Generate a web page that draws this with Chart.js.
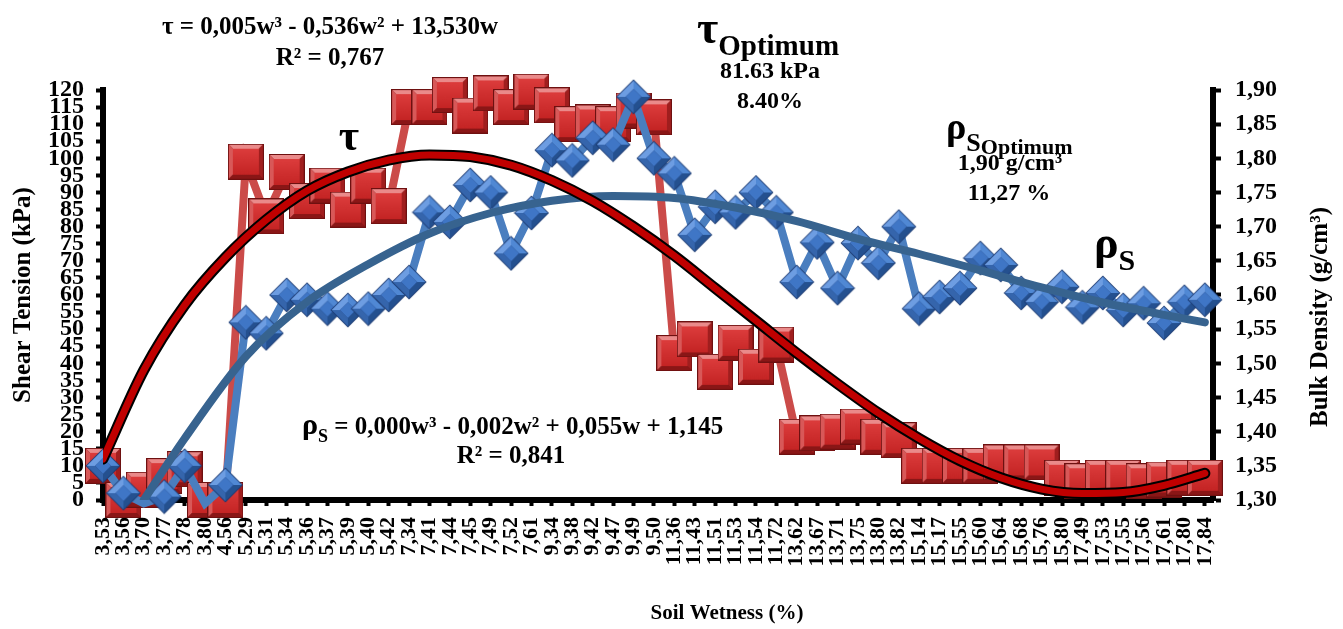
<!DOCTYPE html>
<html>
<head>
<meta charset="utf-8">
<script src="https://cdn.jsdelivr.net/npm/chart.js@4.4.1/dist/chart.umd.min.js"></script>
<style>
html, body { margin: 0; padding: 0; background: #fff; }
</style>
</head>
<body>
<canvas id="myChart" width="1343" height="629"></canvas>
<script>
// humedad del suelo (%) - categorias del eje x
var Humedad = ['3,53','3,56','3,70','3,77','3,78','3,80','4,56','5,29','5,31','5,34','5,36','5,37','5,39','5,40','5,42',
  '7,34','7,41','7,44','7,45','7,49','7,52','7,61','9,34','9,38','9,42','9,47','9,49','9,50',
  '11,36','11,43','11,51','11,53','11,54','11,72','13,62','13,67','13,71','13,75','13,80','13,82',
  '15,14','15,17','15,55','15,60','15,64','15,68','15,76','15,80','17,49','17,53','17,55','17,56','17,61','17,80','17,84'];

// tension de corte (kPa)
var Tension = [10, 0, 3, 7, 9, 0, 0, 99, 83, 96, 87.5, 92, 85, 92, 86,
  115, 115, 118.5, 112.5, 119, 115, 119.5, 115.5, 110, 110.5, 110, 114, 112,
  43, 47, 37.5, 46, 39, 45.5, 18.5, 19.5, 20, 21.5, 18.5, 17.5,
  10, 10, 10, 10, 11, 11, 11, 6.5, 5.5, 6.5, 6.5, 5.5, 6, 6.5, 6.5];

// densidad aparente (g/cm3)
var Densidad = [1.35, 1.31, 1.295, 1.305, 1.35, 1.295, 1.322, 1.56, 1.544, 1.60, 1.593, 1.58, 1.578, 1.58, 1.60,
  1.619, 1.721, 1.707, 1.761, 1.75, 1.661, 1.72, 1.812, 1.797, 1.83, 1.82, 1.89, 1.80,
  1.778, 1.688, 1.729, 1.721, 1.75, 1.721, 1.619, 1.677, 1.61, 1.676, 1.647, 1.70,
  1.58, 1.597, 1.61, 1.654, 1.644, 1.603, 1.59, 1.612, 1.582, 1.603, 1.578, 1.588, 1.559, 1.59, 1.593];

// lineas de tendencia (null = sin lectura)
var TensionTendencia = [12, null, 38, null, 57, null, 71, null, 82, null, 90.5, null, 96, null, 99.5,
  null, 101, null, 100.5, null, 98, null, 93.5, null, 87.5, null, 80, null,
  71.5, null, 62, null, 52.5, null, 43, null, 34, null, 25.5, null,
  18, null, 11.5, null, 6.5, null, 3.2, null, 1.9, null, 2.2, null, 4.3, null, 7.8];

var DensidadTendencia = [null, null, 1.30, null, 1.39, null, null, 1.51, null, null, 1.59, null, null, 1.645, null,
  null, 1.69, null, null, 1.72, null, null, 1.738, null, null, 1.745, null, null,
  1.742, null, null, 1.728, null, null, 1.708, null, null, 1.682, null, null,
  1.66, null, null, 1.636, null, null, 1.611, null, null, 1.589, null, null, 1.571, null, 1.56];

var SERIF = '"Times New Roman", "Liberation Serif", serif';
Chart.defaults.font.family = SERIF;
Chart.defaults.color = '#000';

function poligono(g, pts, color) {
  g.beginPath();
  g.moveTo(pts[0][0], pts[0][1]);
  for (var i = 1; i < pts.length; i++) g.lineTo(pts[i][0], pts[i][1]);
  g.closePath();
  g.fillStyle = color;
  g.fill();
}

// marcador cuadrado rojo con bisel
function hacerCuadro(s) {
  var c = document.createElement('canvas');
  c.width = s; c.height = s;
  var g = c.getContext('2d');
  var b = 4, e = s - 1;
  g.fillStyle = '#6e1010';
  g.fillRect(0, 0, s, s);
  poligono(g, [[1, 1], [e, 1], [e - b, 1 + b], [1 + b, 1 + b]], '#ea8a8a');
  poligono(g, [[1, 1], [1 + b, 1 + b], [1 + b, e - b], [1, e]], '#d85858');
  poligono(g, [[e, 1], [e, e], [e - b, e - b], [e - b, 1 + b]], '#a01e1e');
  poligono(g, [[1, e], [e, e], [e - b, e - b], [1 + b, e - b]], '#8a1616');
  var grd = g.createLinearGradient(0, 1 + b, 0, e - b);
  grd.addColorStop(0, '#dc3c3c');
  grd.addColorStop(1, '#c42424');
  g.fillStyle = grd;
  g.fillRect(1 + b, 1 + b, e - 1 - 2 * b, e - 1 - 2 * b);
  return c;
}

// marcador rombo azul tipo piramide
function hacerRombo(s) {
  var c = document.createElement('canvas');
  c.width = s; c.height = s;
  var g = c.getContext('2d');
  var m = s / 2, r = s / 2 - 0.5, k = r * 0.45;
  poligono(g, [[m, m - r], [m + r, m], [m, m + r], [m - r, m]], '#1d3b72');
  r = r - 1.2;
  poligono(g, [[m - r, m], [m, m - r], [m, m - k], [m - k, m]], '#6d9de2');
  poligono(g, [[m, m - r], [m + r, m], [m + k, m], [m, m - k]], '#5088d4');
  poligono(g, [[m + r, m], [m, m + r], [m, m + k], [m + k, m]], '#24508f');
  poligono(g, [[m, m + r], [m - r, m], [m - k, m], [m, m + k]], '#3565ac');
  poligono(g, [[m, m - k], [m + k, m], [m, m + k], [m - k, m]], '#3f76c6');
  return c;
}

var Cuadro = hacerCuadro(36);
var Rombo = hacerRombo(36);

function escribir(ctx, partes, x, y, align) {
  var total = 0;
  partes.forEach(function (p) {
    ctx.font = 'bold ' + p[1] + 'px ' + SERIF;
    total += ctx.measureText(p[0]).width;
  });
  var cx = align === 'center' ? x - total / 2 : x;
  partes.forEach(function (p) {
    ctx.font = 'bold ' + p[1] + 'px ' + SERIF;
    ctx.fillText(p[0], cx, y + (p[2] || 0));
    cx += ctx.measureText(p[0]).width;
  });
}

var textos = {
  id: 'textos',
  afterDraw: function (chart) {
    var ctx = chart.ctx;
    ctx.save();
    ctx.fillStyle = '#000';
    ctx.textAlign = 'left';
    ctx.textBaseline = 'alphabetic';

    escribir(ctx, [['τ = 0,005w³ - 0,536w² + 13,530w', 25]], 330, 34, 'center');
    escribir(ctx, [['R² = 0,767', 25]], 330, 65, 'center');

    escribir(ctx, [['τ', 46], ['Optimum', 29, 12]], 697, 43, 'left');
    escribir(ctx, [['81.63 kPa', 24]], 770, 78, 'center');
    escribir(ctx, [['8.40%', 24]], 770, 108, 'center');

    escribir(ctx, [['ρ', 38], ['S', 26, 12], ['Optimum', 22, 15]], 946, 139, 'left');
    escribir(ctx, [['1,90 g/cm³', 24]], 1010, 170, 'center');
    escribir(ctx, [['11,27 %', 24]], 1009, 200, 'center');

    escribir(ctx, [['τ', 44]], 349, 150, 'center');
    escribir(ctx, [['ρ', 46], ['S', 30, 12]], 1094, 258, 'left');

    escribir(ctx, [['ρ', 30], ['S', 18, 8], [' = 0,000w³ - 0,002w² + 0,055w + 1,145', 25]], 302, 434, 'left');
    escribir(ctx, [['R² = 0,841', 25]], 511, 463, 'center');

    escribir(ctx, [['Soil Wetness (%)', 21]], 727, 619, 'center');

    ctx.translate(1318, 317);
    ctx.rotate(-Math.PI / 2);
    escribir(ctx, [['Bulk Density (g/cm³)', 25]], 0, 9, 'center');
    ctx.restore();
  }
};

var ctx = document.getElementById('myChart');
var chartData = {
  type: 'line',
  data: {
    labels: Humedad.map(function (h, i) { return i; }),
    datasets: [{
      label: 'τ tendencia',
      data: TensionTendencia,
      yAxisID: 'y',
      borderColor: '#c00000',
      borderWidth: 7,
      borderCapStyle: 'round',
      pointRadius: 0,
      cubicInterpolationMode: 'monotone',
      spanGaps: true,
      fill: false
    },
    {
      label: 'τ tendencia borde',
      data: TensionTendencia,
      yAxisID: 'y',
      borderColor: '#000000',
      borderWidth: 11,
      borderCapStyle: 'round',
      pointRadius: 0,
      cubicInterpolationMode: 'monotone',
      spanGaps: true,
      fill: false
    },
    {
      label: 'ρs tendencia',
      data: DensidadTendencia,
      yAxisID: 'y1',
      borderColor: '#37638f',
      borderWidth: 8,
      borderCapStyle: 'round',
      pointRadius: 0,
      cubicInterpolationMode: 'monotone',
      spanGaps: true,
      fill: false
    },
    {
      label: 'ρs',
      data: Densidad,
      yAxisID: 'y1',
      borderColor: '#4a7ebf',
      borderWidth: 8,
      pointStyle: Rombo,
      pointRadius: function (c) { return c.raw < 1.3 ? 0 : 18; },
      tension: 0,
      clip: false,
      fill: false
    },
    {
      label: 'τ',
      data: Tension,
      yAxisID: 'y',
      borderColor: '#cb4b49',
      borderWidth: 8,
      pointStyle: Cuadro,
      pointRadius: 18,
      tension: 0,
      clip: false,
      fill: false
    }]
  },
  options: {
    responsive: false,
    animation: false,
    layout: { padding: { top: 90, left: 0, right: 0, bottom: 0 } },
    plugins: { legend: { display: false }, tooltip: { enabled: false } },
    scales: {
      x: {
        type: 'linear',
        min: 0,
        max: 54.4,
        afterBuildTicks: function (s) {
          s.ticks = Humedad.map(function (h, i) { return { value: i }; });
        },
        afterFit: function (s) { s.height = 129; },
        ticks: {
          autoSkip: false,
          minRotation: 90,
          maxRotation: 90,
          padding: 11,
          font: { size: 22, weight: 'bold' },
          callback: function (v) { return Humedad[v]; }
        },
        grid: { drawOnChartArea: false, tickLength: 6, tickWidth: 4, color: '#000' },
        border: { display: true, width: 6, color: '#000' }
      },
      y: {
        position: 'left',
        min: 0,
        max: 120,
        afterFit: function (s) { s.width = 103; },
        ticks: { stepSize: 5, autoSkip: false, padding: 12, font: { size: 24, weight: 'bold' } },
        grid: { drawOnChartArea: false, tickLength: 7, tickWidth: 4, color: '#000' },
        border: { display: true, width: 6, color: '#000' },
        title: {
          display: true,
          text: 'Shear Tension (kPa)',
          font: { size: 25, weight: 'bold' },
          padding: { top: 9, bottom: 0 }
        }
      },
      y1: {
        position: 'right',
        min: 1.3,
        max: 1.9,
        afterFit: function (s) { s.width = 130; },
        ticks: {
          stepSize: 0.05,
          autoSkip: false,
          padding: 14,
          font: { size: 24, weight: 'bold' },
          callback: function (v) { return v.toFixed(2).replace('.', ','); }
        },
        grid: { drawOnChartArea: false, tickLength: 8, tickWidth: 4, color: '#000' },
        border: { display: true, width: 6, color: '#000' }
      }
    }
  },
  plugins: [textos]
};
var myChart = new Chart(ctx, chartData);
</script>
</body>
</html>
